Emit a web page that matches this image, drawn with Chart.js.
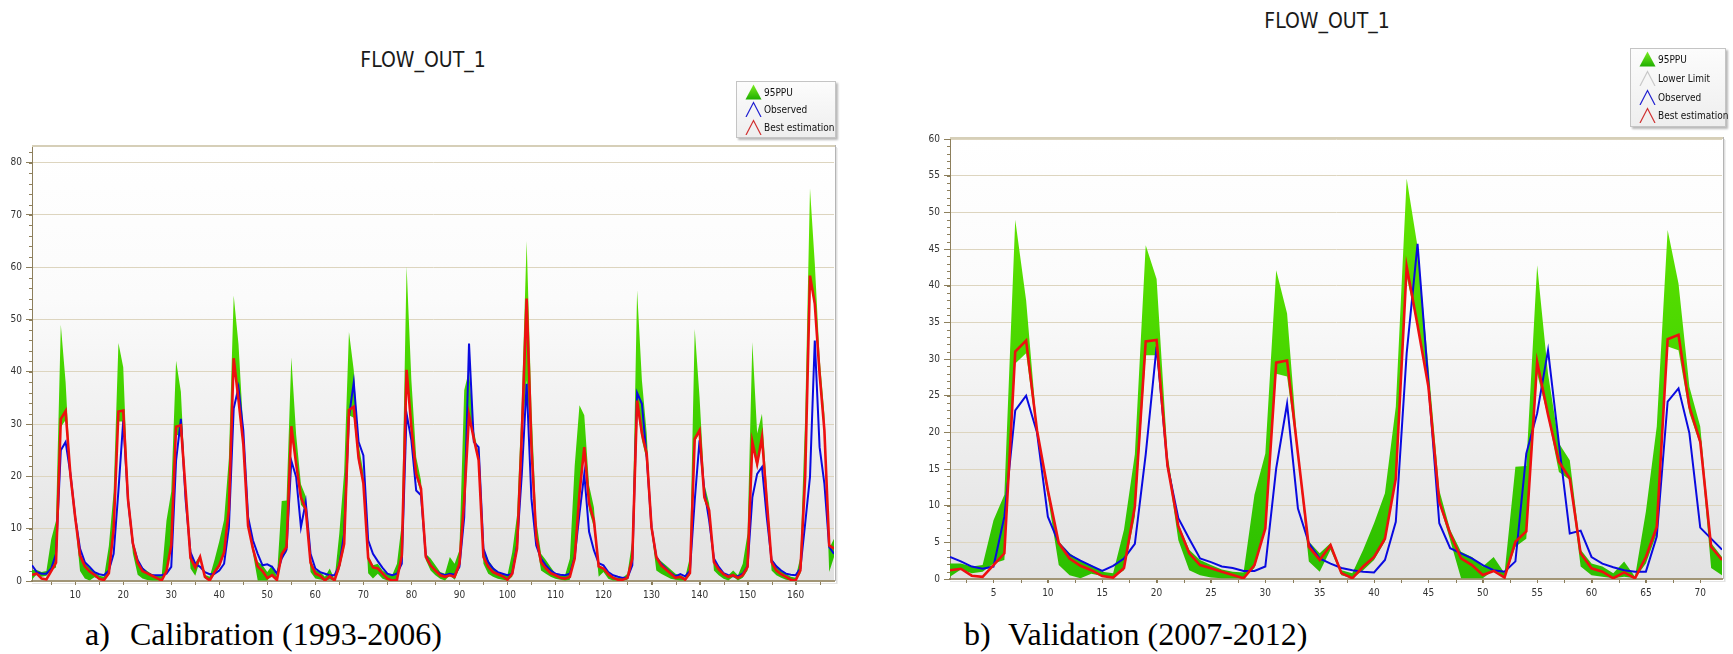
<!DOCTYPE html>
<html>
<head>
<meta charset="utf-8">
<script src="https://cdn.jsdelivr.net/npm/chart.js@4.4.0/dist/chart.umd.min.js"></script>
<style>
  html, body { margin:0; padding:0; background:#ffffff; }
  body { width:1733px; height:654px; position:relative; overflow:hidden;
         font-family:'DejaVu Sans Condensed','DejaVu Sans',sans-serif; }
  canvas { position:absolute; }
  .title { position:absolute; font-size:21px; line-height:24px; color:#1a1a1a;
           white-space:nowrap; transform:translateX(-50%); }
  .legend { position:absolute; border:1px solid #c4c4c4; box-sizing:border-box;
            background:linear-gradient(#fcfcfc,#eeeeee);
            box-shadow:2px 2px 2px rgba(0,0,0,0.28); }
  .row { position:absolute; left:8px; height:17px; display:flex; align-items:flex-end;
         font-size:10px; color:#111; white-space:nowrap; }
  .row svg { margin-right:2px; }
  .row span { line-height:12px; padding-bottom:1px; }
  .cap { position:absolute; font-family:'Liberation Serif','Times New Roman',serif;
         font-size:32px; line-height:32px; color:#000; white-space:nowrap; }
</style>
</head>
<body>

<div class="title" style="left:423px; top:48px;">FLOW_OUT_1</div>
<div class="title" style="left:1327px; top:9px;">FLOW_OUT_1</div>

<canvas id="cal" width="850" height="480" style="left:0px; top:130px;"></canvas>
<canvas id="val" width="833" height="490" style="left:900px; top:120px;"></canvas>

<div class="legend" style="left:736px; top:81px; width:100px; height:57px;">
  <div class="row" style="top:1px;"><svg width="17" height="16"><defs><linearGradient id="gl1" x1="0" y1="0" x2="0" y2="1"><stop offset="0" stop-color="#7cee22"/><stop offset="1" stop-color="#1fae00"/></linearGradient></defs><polygon points="8.5,0.5 16.5,15.5 0.5,15.5" fill="url(#gl1)"/></svg><span>95PPU</span></div>
  <div class="row" style="top:18px;"><svg width="17" height="16"><polyline points="1,16 8.5,1.5 16,16" fill="none" stroke="#2020d0" stroke-width="1.2"/></svg><span>Observed</span></div>
  <div class="row" style="top:36px;"><svg width="17" height="16"><polyline points="1,16 8.5,1.5 16,16" fill="none" stroke="#d03030" stroke-width="1.2"/></svg><span>Best estimation</span></div>
</div>

<div class="legend" style="left:1630px; top:48px; width:96px; height:79px;">
  <div class="row" style="top:1px;"><svg width="17" height="16"><defs><linearGradient id="gl2" x1="0" y1="0" x2="0" y2="1"><stop offset="0" stop-color="#7cee22"/><stop offset="1" stop-color="#1fae00"/></linearGradient></defs><polygon points="8.5,0.5 16.5,15.5 0.5,15.5" fill="url(#gl2)"/></svg><span>95PPU</span></div>
  <div class="row" style="top:20px;"><svg width="17" height="16"><polyline points="1,16 8.5,1.5 16,16" fill="none" stroke="#c8c8c8" stroke-width="1.2"/></svg><span>Lower Limit</span></div>
  <div class="row" style="top:39px;"><svg width="17" height="16"><polyline points="1,16 8.5,1.5 16,16" fill="none" stroke="#2020d0" stroke-width="1.2"/></svg><span>Observed</span></div>
  <div class="row" style="top:57px;"><svg width="17" height="16"><polyline points="1,16 8.5,1.5 16,16" fill="none" stroke="#d03030" stroke-width="1.2"/></svg><span>Best estimation</span></div>
</div>

<div class="cap" style="left:85px; top:618px;">a)</div>
<div class="cap" style="left:130px; top:618px;">Calibration (1993-2006)</div>
<div class="cap" style="left:964px; top:618px;">b)</div>
<div class="cap" style="left:1008px; top:618px;">Validation (2007-2012)</div>

<script>
// ---------------- DATA ----------------
// Calibration (1993-2006), months 1..168
const calXTicks = [10,20,30,40,50,60,70,80,90,100,110,120,130,140,150,160];
const calYTicks = [0,10,20,30,40,50,60,70,80];

const calUpper = [
  2.1,2.1,1.7,1.9,8,11.5,49,38,20.5,12.6,
  5.1,3.5,2.5,1.9,1.0,0.8,6.7,17,45.5,40.9,
  17,7.5,4.0,2.6,1.9,1.3,1.0,0.9,11.5,17.1,
  42.1,36.2,17.5,5.1,3.5,4.9,1.2,0.8,4.0,7.6,
  11.7,23.5,54.6,45.3,29,12.1,6.7,3.7,3.0,1.7,
  3.0,0.8,15.3,15.4,42.8,28,18.5,16.2,4.0,2.1,
  1.7,0.8,2.4,0.3,9.2,20.8,47.6,40.3,26.2,20.8,
  4.9,3.0,3.3,2.0,1.4,1.1,3.3,11,60.2,38.4,
  23.7,19.2,5.2,4.3,3.0,1.7,1.4,4.6,3.3,5.9,
  36.5,40.3,28.8,24.3,6.2,4.0,2.7,1.7,1.4,1.1,
  5.5,12.6,34.5,65,33.3,11.6,5.2,4.0,2.7,1.4,
  1.1,1.1,4.3,22,33.6,31.7,18.3,14.1,2.7,2.4,
  1.4,0.8,0.6,0.6,1.4,7.8,55.6,38.4,28.2,11,
  4.6,3.8,3.0,2.2,1.4,1.1,0.6,4.6,48.2,35.2,
  18.6,14.8,4.3,2.7,1.4,1.1,2.0,1.1,3.3,9.1,
  45.7,28.2,32,18,4.3,3.0,2.0,1.4,0.8,0.6,
  4.6,31.4,75.1,60.7,42.8,32,6.2,8.1
];
const calLower = [
  0.3,1.3,0.8,1.0,2.1,2.6,29.4,30.8,19.5,11.2,
  1.9,0.5,0.1,0.7,0.4,0.2,1.2,8.5,30.5,30.5,
  15.5,5.3,1.2,0.5,0.2,0.1,0.1,0.1,1.5,6.7,
  28,27.6,16.7,2.4,1.0,4.0,0.5,0.1,1.2,2.6,
  5.1,13.5,41.2,34.4,25.8,10.3,5.3,0.1,0.1,0.1,
  1.2,0.1,4.4,5.5,28,22.1,14.6,13.5,1.7,0.5,
  0.3,0.1,0.3,0.1,2.1,6.2,31.7,31.2,22.6,18.3,
  1.5,0.5,1.4,0.45,0.1,0.1,0.1,4.6,39.6,28.8,
  19.9,16.7,4.0,2.0,1.1,0.45,0.1,1.1,0.25,2.4,
  14.8,31.4,26.6,22.8,3.3,1.4,0.8,0.45,0.25,0.1,
  0.8,5.5,26.9,38.4,25,7.5,2.0,1.4,0.8,0.45,
  0.25,0.1,0.25,4.6,16,24.3,13.5,10.3,0.8,1.7,
  0.45,0.1,0.1,0.1,0.25,3.6,33.3,26.9,23.1,9.4,
  2.0,1.4,0.9,0.45,0.25,0.1,0.1,1.1,26.6,28.2,
  15.4,12.9,2.0,1.1,0.45,0.1,0.8,0.1,0.6,2.0,
  25.9,21.5,26.9,14.8,2.0,1.1,0.6,0.25,0.1,0.1,
  1.4,18.6,57.5,52.4,38.4,28.2,1.7,4.6
];
const calObserved = [
  3.0,1.7,1.4,1.4,2.4,5.2,25,26.6,20.5,12.2,
  6.2,3.6,2.7,1.7,1.3,1.1,2.0,5.2,17.3,30.7,
  15.4,7.1,4.0,2.4,1.5,1.1,1.1,1.1,1.4,2.7,
  23,31,15.4,5.5,3.3,2.7,1.7,1.3,1.4,2.0,
  3.3,10.3,33,37,28.8,12.2,7.8,5.2,3.0,3.2,
  2.7,1.4,4.3,6.0,23,19.9,10.3,15.1,5.2,2.4,
  1.7,1.4,1.1,1.1,3.0,9.1,31.4,38,26.6,24,
  7.8,5.2,3.8,2.5,1.4,1.1,1.4,3.3,32,26.9,
  17.3,16.4,4.9,3.0,2.0,1.4,1.1,1.4,1.2,2.7,
  12.2,45.4,26.6,25.6,6.2,3.6,2.4,1.7,1.4,1.1,
  1.4,6.8,20.5,37.7,15.7,6.8,4.3,3.0,2.0,1.4,
  1.2,1.1,1.4,4.6,12.9,20.5,9.4,5.9,3.4,3.0,
  1.7,1.1,0.8,0.6,0.6,3.0,36,33.9,23.7,10.3,
  4.6,3.3,2.4,1.5,0.9,1.3,0.9,2.0,15.4,26.9,
  17.3,11.6,4.3,2.7,1.5,1.1,0.9,0.9,1.4,2.8,
  16,20.5,21.8,12.2,4.0,2.8,2.0,1.4,1.2,1.1,
  2.4,11,19.9,46,25.6,18.6,6.5,5.2
];
const calBest = [
  1.2,1.4,0.45,0.3,1.9,3.5,31,32.5,20.3,12.1,
  4.9,2.8,1.8,1.2,0.4,0.2,1.5,9.9,32.4,32.6,
  15.5,7.2,3.5,1.9,1.45,1.0,0.55,0.1,1.9,6.9,
  29.5,29.8,17.1,4.4,2.6,4.6,0.8,0.1,1.7,3.0,
  5.5,13.7,42.6,34.6,26.2,10.5,6.2,2.8,1.9,0.55,
  1.1,0.2,5.1,6.5,29.6,22.4,16,13.7,3.5,1.45,
  1.0,0.1,0.9,0.1,3.0,7.1,32.7,33.3,23.5,18.7,
  4.4,2.6,2.4,1.4,0.45,0.1,0.25,4.9,40.4,29.4,
  20.5,17.7,4.6,3.0,2.0,1.1,0.8,1.1,0.8,3.3,
  15.4,31.7,27.2,23.1,4.6,2.7,1.7,1.3,0.9,0.25,
  1.4,6.2,28.2,54,25.6,8.4,3.6,2.4,1.5,1.1,
  0.6,0.45,0.8,4.3,16.7,25.6,14.8,11.6,2.8,2.4,
  1.3,0.6,0.25,0.25,0.6,4.3,34.5,28.2,24.3,10.3,
  4.6,3.0,2.2,1.4,0.6,0.8,0.25,1.5,27.2,28.8,
  16,13.5,3.6,2.2,1.3,0.8,1.1,0.6,1.1,2.7,
  26.6,22.4,27.5,15.4,3.6,2.0,1.3,0.8,0.25,0.1,
  2.0,19.9,58.4,53,39.6,28.8,6.8,6.2
];

// Validation (2007-2012), months 1..72
const valXTicks = [5,10,15,20,25,30,35,40,45,50,55,60,65,70];
const valYTicks = [0,5,10,15,20,25,30,35,40,45,50,55,60];

const valUpper = [
  2.1,2.1,1.7,1.9,8,11.5,49,38,20.5,12.6,
  5.1,3.5,2.5,1.9,1.0,0.8,6.7,17,45.5,40.9,
  17,7.5,4.0,2.6,1.9,1.3,1.0,0.9,11.5,17.1,
  42.1,36.2,17.5,5.1,3.5,4.9,1.2,0.8,4.0,7.6,
  11.7,23.5,54.6,45.3,29,12.1,6.7,3.7,3.0,1.7,
  3.0,0.8,15.3,15.4,42.8,28,18.5,16.2,4.0,2.1,
  1.7,0.8,2.4,0.3,9.2,20.8,47.6,40.3,26.2,20.8,
  4.9,3.0
];
const valLower = [
  0.3,1.3,0.8,1.0,2.1,2.6,29.4,30.8,19.5,11.2,
  1.9,0.5,0.1,0.7,0.4,0.2,1.2,8.5,30.5,30.5,
  15.5,5.3,1.2,0.5,0.2,0.1,0.1,0.1,1.5,6.7,
  28,27.6,16.7,2.4,1.0,4.0,0.5,0.1,1.2,2.6,
  5.1,13.5,41.2,34.4,25.8,10.3,5.3,0.1,0.1,0.1,
  1.2,0.1,4.4,5.5,28,22.1,14.6,13.5,1.7,0.5,
  0.3,0.1,0.3,0.1,2.1,6.2,31.7,31.2,22.6,18.3,
  1.5,0.5
];
const valObserved = [
  3.0,2.4,1.7,1.4,1.7,8.5,23,25,20,8.5,
  4.9,3.3,2.5,1.8,1.1,1.8,2.8,4.8,17,31.7,
  15.5,8.3,5.5,2.8,2.3,1.7,1.5,1.1,1.1,1.7,
  15.1,23.9,9.6,4.9,2.8,2.1,1.5,1.2,1.0,0.9,
  2.6,7.8,30.8,45.7,26.7,7.6,4.2,3.5,2.8,1.9,
  1.2,1.0,2.4,17.1,22.6,31.2,18.5,6.2,6.6,3.0,
  2.1,1.6,1.2,1.0,1.0,5.8,24.2,26,19.9,7.0,
  5.5,4.0
];
const valBest = [
  1.2,1.4,0.45,0.3,1.9,3.5,31,32.5,20.3,12.1,
  4.9,2.8,1.8,1.2,0.4,0.2,1.5,9.9,32.4,32.6,
  15.5,7.2,3.5,1.9,1.45,1.0,0.55,0.1,1.9,6.9,
  29.5,29.8,17.1,4.4,2.6,4.6,0.8,0.1,1.7,3.0,
  5.5,13.7,42.6,34.6,26.2,10.5,6.2,2.8,1.9,0.55,
  1.1,0.2,5.1,6.5,29.6,22.4,16,13.7,3.5,1.45,
  1.0,0.1,0.9,0.1,3.0,7.1,32.7,33.3,23.5,18.7,
  4.4,2.6
];

// ---------------- RENDERING ----------------
Chart.defaults.font.family = "'DejaVu Sans Condensed','DejaVu Sans',sans-serif";
Chart.defaults.font.size = 10;
Chart.defaults.color = '#333';

const pts = arr => arr.map((v, i) => ({ x: i + 1, y: v }));

const plotBackground = {
  id: 'plotBackground',
  beforeDraw(chart) {
    const { ctx, chartArea: a } = chart;
    const g = ctx.createLinearGradient(0, a.top, 0, a.bottom);
    g.addColorStop(0, '#ffffff');
    g.addColorStop(0.35, '#fbfbfb');
    g.addColorStop(1, '#e1e1e1');
    ctx.save();
    ctx.fillStyle = g;
    ctx.fillRect(a.left, a.top, a.right - a.left, a.bottom - a.top);
    ctx.restore();
  }
};

const plotFrame = {
  id: 'plotFrame',
  afterDraw(chart, args, o) {
    const { ctx, chartArea: a } = chart;
    const xs = chart.scales.x, ys = chart.scales.y;
    ctx.save();
    // top border
    ctx.strokeStyle = '#d6cfb8';
    ctx.lineWidth = 2;
    ctx.beginPath(); ctx.moveTo(a.left, a.top - 1); ctx.lineTo(a.right + 1, a.top - 1); ctx.stroke();
    // right border with shadow
    ctx.lineWidth = 1;
    ctx.strokeStyle = '#b4b4b4';
    ctx.beginPath(); ctx.moveTo(a.right + 1.5, a.top - 2); ctx.lineTo(a.right + 1.5, a.bottom); ctx.stroke();
    ctx.strokeStyle = 'rgba(0,0,0,0.12)';
    ctx.beginPath(); ctx.moveTo(a.right + 2.5, a.top); ctx.lineTo(a.right + 2.5, a.bottom + 2); ctx.stroke();
    ctx.strokeStyle = 'rgba(0,0,0,0.06)';
    ctx.beginPath(); ctx.moveTo(a.right + 3.5, a.top + 1); ctx.lineTo(a.right + 3.5, a.bottom + 3); ctx.stroke();
    ctx.strokeStyle = 'rgba(0,0,0,0.10)';
    ctx.beginPath(); ctx.moveTo(a.left, a.bottom + 2.5); ctx.lineTo(a.right + 3, a.bottom + 2.5); ctx.stroke();
    // minor ticks
    ctx.strokeStyle = o.color;
    ctx.lineWidth = 1;
    for (let v = Math.ceil(xs.min / o.xStep) * o.xStep; v <= xs.max; v += o.xStep) {
      const p = Math.round(xs.getPixelForValue(v)) + 0.5;
      ctx.beginPath(); ctx.moveTo(p, a.bottom + 1); ctx.lineTo(p, a.bottom + 4); ctx.stroke();
    }
    for (let v = 0; v <= ys.max; v += o.yStep) {
      const p = Math.round(ys.getPixelForValue(v)) + 0.5;
      ctx.beginPath(); ctx.moveTo(a.left - 3, p); ctx.lineTo(a.left, p); ctx.stroke();
    }
    ctx.restore();
  }
};

function greenFill(context) {
  const chart = context.chart;
  const a = chart.chartArea;
  if (!a) return '#3cc800';
  const g = chart.ctx.createLinearGradient(0, a.top, 0, a.bottom);
  g.addColorStop(0, '#6ae800');
  g.addColorStop(0.5, '#48d600');
  g.addColorStop(1, '#2cbf00');
  return g;
}

function makeChart(id, upper, lower, obs, best, xMax, yMax, xTicks, yTicks, yWidth, xHeight, pad, minor) {
  return new Chart(document.getElementById(id), {
    type: 'line',
    data: {
      datasets: [
        { label: '95PPU', data: pts(upper), fill: '+1', backgroundColor: greenFill,
          borderWidth: 0, borderColor: 'rgba(0,0,0,0)', pointRadius: 0, order: 3 },
        { label: 'Lower Limit', data: pts(lower), fill: false, borderWidth: 0,
          borderColor: 'rgba(0,0,0,0)', pointRadius: 0, order: 2 },
        { label: 'Observed', data: pts(obs), fill: false, borderColor: '#0a0ae0',
          borderWidth: 2, pointRadius: 0, order: 1 },
        { label: 'Best estimation', data: pts(best), fill: false, borderColor: '#ee1010',
          borderWidth: 2.6, pointRadius: 0, order: 0 }
      ]
    },
    options: {
      responsive: false,
      animation: false,
      events: [],
      layout: { padding: pad },
      elements: { line: { tension: 0, borderJoinStyle: 'miter' } },
      plugins: {
        legend: { display: false },
        tooltip: { enabled: false },
        title: { display: false },
        plotFrame: minor
      },
      scales: {
        x: {
          type: 'linear', min: 1, max: xMax,
          afterBuildTicks: s => { s.ticks = xTicks.map(v => ({ value: v })); },
          afterFit: s => { s.height = xHeight; },
          ticks: { autoSkip: false, maxRotation: 0, padding: 4, color: '#333',
                   callback: v => String(v) },
          grid: { drawOnChartArea: false, drawTicks: true, tickLength: 4, tickColor: '#8d7f5c' },
          border: { display: true, color: '#a19576', width: 2 }
        },
        y: {
          type: 'linear', min: 0, max: yMax,
          afterBuildTicks: s => { s.ticks = yTicks.map(v => ({ value: v })); },
          afterFit: s => { s.width = yWidth; },
          ticks: { padding: 4, color: '#333', callback: v => String(v) },
          grid: { color: '#ddd5bf', lineWidth: 1, tickLength: 6, tickColor: '#8d7f5c' },
          border: { display: true, color: '#8d7f5c', width: 1 }
        }
      }
    },
    plugins: [plotBackground, plotFrame]
  });
}

makeChart('cal', calUpper, calLower, calObserved, calBest, 168, 83, calXTicks, calYTicks,
          32, 29, { left: 0, top: 17, right: 16, bottom: 0 },
          { color: '#8d7f5c', xStep: 5, yStep: 2 });
makeChart('val', valUpper, valLower, valObserved, valBest, 72, 60, valXTicks, valYTicks,
          50, 31, { left: 0, top: 19, right: 11, bottom: 0 },
          { color: '#8d7f5c', xStep: 2.5, yStep: 1 });
</script>
</body>
</html>
